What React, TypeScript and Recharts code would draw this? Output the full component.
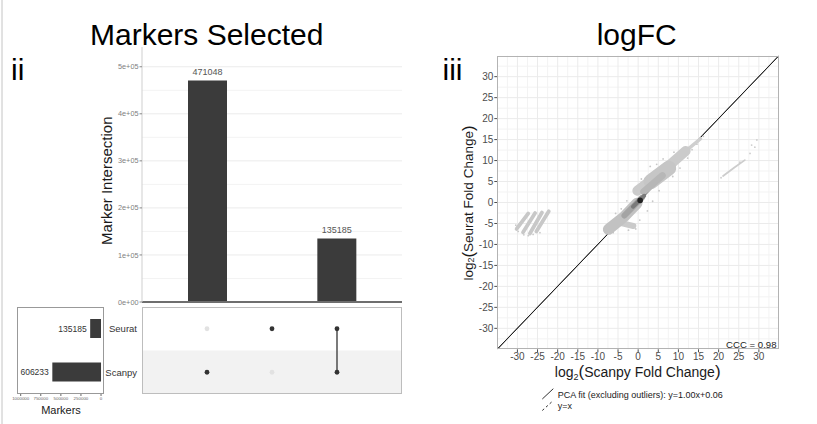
import React from 'react';
import {
  BarChart,
  Bar,
  XAxis,
  YAxis,
  CartesianGrid,
  ReferenceLine,
  ReferenceArea,
  LabelList,
  ScatterChart,
  Scatter,
} from 'recharts';

const FONT = '"Liberation Sans", Arial, Helvetica, sans-serif';

// ---- UpSet: intersections ----
const intersectionNames = ['Scanpy', 'Seurat', 'Seurat & Scanpy'];
const intersectionSizes = [471048, 0, 135185];
const intersectionTicks = [0, 100000, 200000, 300000, 400000, 500000];
const intersectionMinor = [50000, 150000, 250000, 350000, 450000];

// ---- UpSet: sets ----
const setNames = ['Seurat', 'Scanpy'];
const setSizes = [135185, 606233];
const setSizeTicks = [0, 250000, 500000, 750000, 1000000];
// membership per intersection column, in setNames order
const membership = [
  [false, true],
  [true, false],
  [true, true],
];

// ---- logFC scatter ----
const fcTicks = [-30, -25, -20, -15, -10, -5, 0, 5, 10, 15, 20, 25, 30];
const fcMinor = [-32.5, -27.5, -22.5, -17.5, -12.5, -7.5, -2.5, 2.5, 7.5, 12.5, 17.5, 22.5, 27.5, 32.5];
const identityLine = [{ x: -35, y: -35 }, { x: 35, y: 35 }];
const pcaFitLine = [{ x: -35, y: -34.94 }, { x: 35, y: 35.06 }];

// outlier cluster at the left (striped)
const leftStripe1 = [{ x: -30.2, y: -6.3 }, { x: -27.3, y: -2.6 }];
const leftStripe2 = [{ x: -28.6, y: -7.1 }, { x: -25.6, y: -2.5 }];
const leftStripe3 = [{ x: -26.9, y: -7.4 }, { x: -23.9, y: -2.4 }];
const leftStripe4 = [{ x: -25.3, y: -6.9 }, { x: -22.2, y: -2.1 }];
const leftScatter = [
  { x: -29.8, y: -6.9 }, { x: -28.4, y: -7.7 }, { x: -27.3, y: -7.9 }, { x: -26.1, y: -7.6 },
  { x: -30.4, y: -5.4 }, { x: -24.4, y: -7.2 },
];

// outlier streak at the right
const rightStreak = [{ x: 21.1, y: 6.3 }, { x: 24.0, y: 8.4 }, { x: 26.5, y: 10.1 }];
const rightScatter = [
  { x: 20.6, y: 5.9 }, { x: 27.8, y: 11.7 }, { x: 28.2, y: 13.7 }, { x: 29.0, y: 13.2 },
  { x: 29.5, y: 14.9 }, { x: 25.3, y: 9.6 },
];

// main density cloud along the diagonal
const cloudLowerOuter = [{ x: -7.4, y: -6.4 }, { x: -3.5, y: -3.4 }, { x: -0.3, y: -0.2 }];
const cloudLowerSkirt = [{ x: -4.2, y: -4.9 }, { x: -1.2, y: -5.6 }];
const cloudUpperOuter = [{ x: -0.2, y: 2.8 }, { x: 5.5, y: 7.0 }, { x: 11.8, y: 12.3 }];
const cloudUpperWide = [{ x: 3.2, y: 5.0 }, { x: 7.6, y: 8.2 }];
const cloudTail = [{ x: 11.5, y: 12.0 }, { x: 15.5, y: 15.2 }];
const cloudMidLower = [{ x: -3.4, y: -3.1 }, { x: 0.9, y: 1.1 }];
const cloudMidUpper = [{ x: 1.4, y: 2.6 }, { x: 6.0, y: 6.4 }];
const cloudDark = [{ x: -1.3, y: -1.0 }, { x: 1.5, y: 1.6 }];
const cloudCore = [{ x: 0.5, y: 0.5 }];
const cloudFringe = [
  { x: -8.3, y: -7.0 }, { x: -6.2, y: -7.2 }, { x: -2.4, y: -6.6 }, { x: -0.6, y: -6.3 },
  { x: 0.4, y: -4.2 }, { x: 2.3, y: -2.0 }, { x: 3.6, y: 0.3 }, { x: 5.2, y: 2.8 },
  { x: 8.6, y: 6.2 }, { x: 10.4, y: 8.2 }, { x: 12.3, y: 10.6 }, { x: 13.4, y: 12.6 },
  { x: 14.6, y: 13.9 }, { x: 16.2, y: 15.8 }, { x: -5.6, y: -2.6 }, { x: -2.8, y: 0.4 },
  { x: 0.8, y: 5.6 }, { x: 3.0, y: 8.6 }, { x: 6.2, y: 10.4 }, { x: 8.9, y: 12.0 },
  { x: -4.2, y: -1.5 }, { x: 4.6, y: 9.1 },
];

const sciFormat = (v: number) => (v === 0 ? '0e+00' : `${v / 100000}e+05`);

const intersectData = intersectionNames.map((name, i) => ({ name, count: intersectionSizes[i] }));
const setData = setNames.map((set, i) => ({ set, size: setSizes[i] }));
const rowOf = (i: number) => setNames.length - i;
const activeDots: { x: number; y: number }[] = [];
const inactiveDots: { x: number; y: number }[] = [];
membership.forEach((col, c) => {
  col.forEach((on, i) => {
    (on ? activeDots : inactiveDots).push({ x: c + 1, y: rowOf(i) });
  });
});
const connectors = membership
  .map((col, c) => ({ c, rows: col.map((on, i) => (on ? rowOf(i) : null)).filter((r) => r !== null) as number[] }))
  .filter((d) => d.rows.length > 1)
  .map((d) => d.rows.map((r) => ({ x: d.c + 1, y: r })));

const noDot = () => <g />;

const band = (key: string, data: { x: number; y: number }[], color: string, width: number) => (
  <Scatter
    key={key}
    data={data}
    fill={color}
    shape={noDot}
    line={{ stroke: color, strokeWidth: width, strokeLinecap: 'round', strokeLinejoin: 'round' }}
    isAnimationActive={false}
    legendType="none"
  />
);

const dots = (key: string, data: { x: number; y: number }[], color: string, r: number) => (
  <Scatter
    key={key}
    data={data}
    fill={color}
    shape={(p: any) => <circle cx={p.cx} cy={p.cy} r={r} fill={color} />}
    isAnimationActive={false}
    legendType="none"
  />
);

const SetLabel = (p: any) => {
  const x = Math.min(Number(p.x), Number(p.x) + Number(p.width));
  return (
    <text x={x - 3.5} y={Number(p.y) + Number(p.height) / 2} textAnchor="end" dominantBaseline="central"
      fontSize={8.5} fill="#333" fontFamily={FONT}>
      {p.value}
    </text>
  );
};

export default function App() {
  return (
    <div style={{ position: 'absolute', left: 0, top: 0, width: 817, height: 424, background: '#fff', fontFamily: FONT, overflow: 'hidden' }}>
      {/* intersection bar chart */}
      <div style={{ position: 'absolute', left: 0, top: 0 }}>
        <BarChart width={420} height={312} data={intersectData} margin={{ top: 47, right: 18, bottom: 10, left: 0 }}>
          <CartesianGrid vertical={false} stroke="#f3f3f3" horizontalValues={intersectionMinor} />
          <CartesianGrid vertical={false} stroke="#ebebeb" horizontalValues={intersectionTicks} />
          <XAxis dataKey="name" hide padding={{ left: 33, right: 33 }} />
          <YAxis
            width={142}
            domain={[0, 542000]}
            ticks={intersectionTicks}
            tickFormatter={sciFormat}
            tickSize={2.5}
            tickMargin={1}
            tick={{ fontSize: 7.3, fill: '#808080', fontFamily: FONT }}
            tickLine={{ stroke: '#888' }}
            axisLine={{ stroke: '#cfcfcf' }}
            allowDataOverflow
          />
          <ReferenceLine y={0} stroke="#6e6e6e" strokeWidth={2} />
          <Bar dataKey="count" fill="#3b3b3b" barSize={39} isAnimationActive={false}>
            <LabelList dataKey="count" position="top" offset={5} fontSize={9} fill="#555" fontFamily={FONT} />
          </Bar>
        </BarChart>
      </div>

      {/* intersection matrix */}
      <div style={{ position: 'absolute', left: 0, top: 307 }}>
        <ScatterChart width={420} height={87} margin={{ top: 0, right: 18, bottom: 0, left: 0 }}>
          <XAxis type="number" dataKey="x" domain={[0, 4]} hide />
          <YAxis
            type="number"
            dataKey="y"
            width={142}
            domain={[0.5, 2.5]}
            ticks={[1, 2]}
            tickFormatter={(v: number) => setNames[setNames.length - v]}
            axisLine={false}
            tickLine={false}
            tickSize={3}
            tickMargin={2}
            tick={{ fontSize: 9.5, fill: '#333', fontFamily: FONT }}
          />
          <ReferenceArea y1={0.5} y2={1.5} fill="#f2f2f2" fillOpacity={1} stroke="none" />
          {dots('inactive', inactiveDots, '#e2e2e2', 2.4)}
          {connectors.map((c, i) => (
            <Scatter key={`conn${i}`} data={c} fill="#333" shape={noDot}
              line={{ stroke: '#333', strokeWidth: 1.3 }} isAnimationActive={false} legendType="none" />
          ))}
          {dots('active', activeDots, '#333', 2.4)}
        </ScatterChart>
      </div>
      <div style={{ position: 'absolute', left: 142, top: 307, width: 260, height: 87, border: '1px solid #bdbdbd', boxSizing: 'border-box' }} />

      {/* set size bars */}
      <div style={{ position: 'absolute', left: 0, top: 307 }}>
        <BarChart width={108} height={97} data={setData} layout="vertical" margin={{ top: 0, right: 4, bottom: 0, left: 17 }}>
          <XAxis
            type="number"
            domain={[-37000, 1046000]}
            reversed
            allowDataOverflow
            ticks={setSizeTicks}
            height={10}
            tickSize={2}
            tickMargin={0.5}
            axisLine={false}
            tickLine={{ stroke: '#666' }}
            tick={{ fontSize: 4.4, fill: '#666', fontFamily: FONT }}
            interval={0}
          />
          <YAxis type="category" dataKey="set" hide />
          <Bar dataKey="size" fill="#3b3b3b" barSize={19} isAnimationActive={false}>
            <LabelList dataKey="size" content={SetLabel} />
          </Bar>
        </BarChart>
      </div>
      <div style={{ position: 'absolute', left: 17, top: 307, width: 87, height: 87, border: '1px solid #999', boxSizing: 'border-box' }} />

      {/* logFC scatter */}
      <div style={{ position: 'absolute', left: 420, top: 0 }}>
        <ScatterChart width={397} height={424} margin={{ top: 55.7, right: 38, bottom: 54.7, left: 37.3 }}>
          <CartesianGrid stroke="#f3f3f3" horizontalValues={fcMinor} verticalValues={fcMinor} />
          <CartesianGrid stroke="#ebebeb" horizontalValues={fcTicks} verticalValues={fcTicks} />
          <XAxis
            type="number"
            dataKey="x"
            domain={[-35, 35]}
            ticks={fcTicks}
            interval={0}
            height={20}
            tickSize={3}
            tickMargin={1}
            axisLine={false}
            tickLine={{ stroke: '#4d4d4d' }}
            tick={{ fontSize: 10, fill: '#4d4d4d', fontFamily: FONT }}
            allowDataOverflow
          />
          <YAxis
            type="number"
            dataKey="y"
            domain={[-35, 35]}
            ticks={fcTicks}
            interval={0}
            width={40}
            tickSize={3}
            tickMargin={1}
            axisLine={false}
            tickLine={{ stroke: '#4d4d4d' }}
            tick={{ fontSize: 10, fill: '#4d4d4d', fontFamily: FONT }}
            allowDataOverflow
          />
          {band('ident', identityLine, '#1a1a1a', 0.9)}
          {band('pca', pcaFitLine, '#1a1a1a', 0.9)}
          {band('ls1', leftStripe1, '#c8c8c8', 3.8)}
          {band('ls2', leftStripe2, '#c8c8c8', 3.8)}
          {band('ls3', leftStripe3, '#c8c8c8', 3.8)}
          {band('ls4', leftStripe4, '#c8c8c8', 3.8)}
          {dots('lsc', leftScatter, '#cacaca', 0.9)}
          {band('rs', rightStreak, '#cdcdcd', 1.8)}
          {dots('rsc', rightScatter, '#cdcdcd', 0.9)}
          {dots('fringe', cloudFringe, '#c8c8c8', 0.9)}
          {band('lowerSkirt', cloudLowerSkirt, '#cacaca', 6)}
          {band('lowerOuter', cloudLowerOuter, '#c2c2c2', 11)}
          {band('tail', cloudTail, '#cfcfcf', 3.5)}
          {band('upperOuter', cloudUpperOuter, '#cbcbcb', 10)}
          {band('upperWide', cloudUpperWide, '#c6c6c6', 15)}
          {band('midUpper', cloudMidUpper, '#b7b7b7', 7)}
          {band('midLower', cloudMidLower, '#a4a4a4', 6)}
          {band('dark', cloudDark, '#7a7a7a', 4)}
          {dots('core', cloudCore, '#222', 2.8)}
        </ScatterChart>
      </div>
      <div style={{ position: 'absolute', left: 497, top: 55.7, width: 282.3, height: 293.6, border: '1px solid #b3b3b3', boxSizing: 'border-box' }} />

      {/* titles and annotations */}
      <svg width={817} height={424} style={{ position: 'absolute', left: 0, top: 0, pointerEvents: 'none' }} fontFamily={FONT}>
        <line x1={2} y1={0} x2={2} y2={424} stroke="#c4c4c4" strokeWidth={1} />
        <text x={206.7} y={45} fontSize={30} textAnchor="middle" fill="#000">Markers Selected</text>
        <text x={11} y={80} fontSize={30} fill="#000">ii</text>
        <text x={636.7} y={45} fontSize={30} textAnchor="middle" fill="#000">logFC</text>
        <text x={442.5} y={80} fontSize={30} fill="#000">iii</text>
        <text x={106.7} y={180.7} fontSize={15} textAnchor="middle" dominantBaseline="central" fill="#1a1a1a"
          transform="rotate(-90 106.7 180.7)">Marker Intersection</text>
        <text x={61} y={414} fontSize={11} textAnchor="middle" fill="#1a1a1a">Markers</text>

        <text x={637.7} y={376.5} fontSize={14} textAnchor="middle" fill="#1a1a1a">
          log<tspan fontSize={9} dy={3}>2</tspan><tspan fontSize={17} dy={-3}>(</tspan>Scanpy Fold Change<tspan fontSize={17}>)</tspan>
        </text>
        <text x={468} y={203} fontSize={13.5} textAnchor="middle" dominantBaseline="central" fill="#1a1a1a" transform="rotate(-90 468 203)">
          log<tspan fontSize={9} dy={3}>2</tspan><tspan fontSize={16.5} dy={-3}>(</tspan>Seurat Fold Change<tspan fontSize={16.5}>)</tspan>
        </text>
        <text x={776.5} y={348.3} fontSize={9.6} textAnchor="end" fill="#222">CCC = 0.98</text>

        <line x1={542.3} y1={399} x2={553.3} y2={388.7} stroke="#1a1a1a" strokeWidth={0.9} />
        <text x={557.7} y={397.5} fontSize={9} fill="#1a1a1a">PCA fit (excluding outliers): y=1.00x+0.06</text>
        <line x1={542.3} y1={410.5} x2={553.3} y2={400.5} stroke="#1a1a1a" strokeWidth={0.9} strokeDasharray="2.5 2.5" />
        <text x={557.7} y={409.2} fontSize={9} fill="#1a1a1a">y=x</text>
      </svg>
    </div>
  );
}
